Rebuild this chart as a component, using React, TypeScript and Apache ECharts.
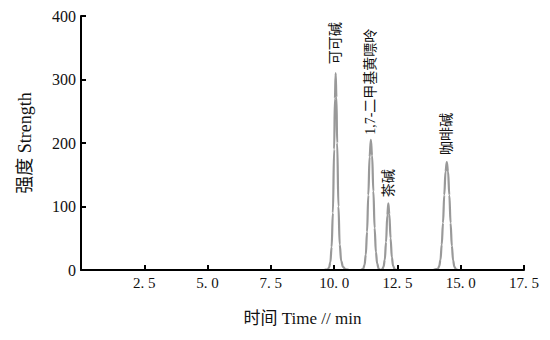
import React, { useEffect, useRef } from "react";
import * as echarts from "echarts";

// Chromatogram trace: [time (min), strength]
const baseStart: [number, number][] = [[0, 0], [9.6, 0]];
const peakTheobromine: [number, number][] = [
  [9.75, 1], [9.8, 4], [9.85, 12], [9.9, 36], [9.95, 90], [10.0, 190], [10.03, 270], [10.06, 310],
  [10.09, 272], [10.12, 200], [10.17, 100], [10.22, 40], [10.28, 14], [10.35, 5], [10.45, 1],
];
const gap1: [number, number][] = [[10.6, 0], [11.05, 0]];
const peakParaxanthine: [number, number][] = [
  [11.15, 2], [11.2, 8], [11.25, 24], [11.3, 60], [11.35, 118], [11.4, 178], [11.45, 205],
  [11.5, 180], [11.55, 124], [11.6, 66], [11.65, 28], [11.7, 10], [11.76, 2], [11.82, 0],
];
const peakTheophylline: [number, number][] = [
  [11.9, 1], [11.95, 5], [12.0, 16], [12.05, 44], [12.1, 86], [12.14, 105],
  [12.18, 88], [12.23, 50], [12.28, 20], [12.33, 6], [12.4, 1], [12.5, 0],
];
const gap2: [number, number][] = [[13.9, 0]];
const peakCaffeine: [number, number][] = [
  [14.1, 2], [14.15, 6], [14.2, 16], [14.25, 40], [14.3, 74], [14.35, 118], [14.4, 155], [14.45, 170],
  [14.5, 155], [14.55, 118], [14.6, 74], [14.65, 38], [14.7, 15], [14.75, 5], [14.82, 1], [14.9, 0],
];
const baseEnd: [number, number][] = [[17.5, 0]];

const trace = [
  ...baseStart, ...peakTheobromine, ...gap1, ...peakParaxanthine,
  ...peakTheophylline, ...gap2, ...peakCaffeine, ...baseEnd,
];

const peakNames = ["可可碱", "1,7-二甲基黄嘌呤", "茶碱", "咖啡碱"];
const peakTops: [number, number][] = [[10.06, 310], [11.45, 205], [12.14, 105], [14.45, 170]];
const peakLabelGap = [9, 5, 6, 7];

const xTicks = { min: 0, max: 17.5, interval: 2.5 };
const yTicks = { min: 0, max: 400, interval: 100 };

const serif = "'Liberation Serif', 'Noto Sans CJK SC', serif";

export default function App() {
  const ref = useRef<HTMLDivElement>(null);
  useEffect(() => {
    if (!ref.current) return;
    const chart = echarts.init(ref.current, undefined, { renderer: "svg" });
    chart.setOption({
      animation: false,
      backgroundColor: "#ffffff",
      grid: { left: 70, right: 10, top: 6, bottom: 53 },
      xAxis: {
        type: "value",
        min: xTicks.min,
        max: xTicks.max,
        interval: xTicks.interval,
        z: 5,
        name: "时间 Time // min",
        nameLocation: "middle",
        nameGap: 40,
        nameTextStyle: { color: "#111", fontSize: 17, fontFamily: serif },
        axisLine: { lineStyle: { color: "#000", width: 2 } },
        axisTick: { inside: true, length: 5, lineStyle: { color: "#000", width: 2 } },
        axisLabel: {
          color: "#111",
          fontSize: 15,
          fontFamily: serif,
          margin: 5,
          showMinLabel: false,
          formatter: (v: number) => v.toFixed(1).replace(".", ". "),
        },
        splitLine: { show: false },
      },
      yAxis: {
        type: "value",
        min: yTicks.min,
        max: yTicks.max,
        interval: yTicks.interval,
        z: 5,
        name: "强度 Strength",
        nameLocation: "middle",
        nameGap: 47,
        nameTextStyle: { color: "#111", fontSize: 18, fontFamily: serif },
        axisLine: { show: true, lineStyle: { color: "#000", width: 2 } },
        axisTick: { show: true, inside: true, length: 5, lineStyle: { color: "#000", width: 2 } },
        axisLabel: { color: "#111", fontSize: 16, fontFamily: serif, margin: 5 },
        splitLine: { show: false },
      },
      series: [
        {
          type: "line",
          data: trace,
          showSymbol: false,
          smooth: 0.4,
          smoothMonotone: "x",
          z: 2,
          lineStyle: { color: "#999999", width: 2.2 },
          markPoint: {
            symbol: "circle",
            symbolSize: 0,
            data: peakNames.map((n, i) => ({
              name: n,
              coord: peakTops[i],
              label: {
                show: true,
                formatter: n,
                position: "top",
                distance: peakLabelGap[i],
                rotate: 90,
                align: "left",
                verticalAlign: "middle",
                color: "#111",
                fontSize: 14,
                fontFamily: serif,
              },
            })),
          },
        },
      ],
    });
    return () => chart.dispose();
  }, []);
  return <div ref={ref} style={{ width: 534, height: 324 }} />;
}
